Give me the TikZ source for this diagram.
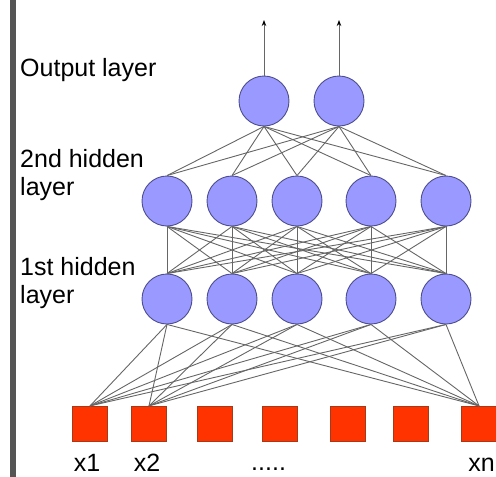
\documentclass[tikz,border=0pt]{standalone}
\usepackage{fontspec}
\setmainfont{Liberation Sans}
\usetikzlibrary{arrows.meta}
\definecolor{neuronfill}{HTML}{9999FF}
\definecolor{neurondraw}{HTML}{4D4D8C}
\definecolor{inputfill}{HTML}{FF3300}
\definecolor{inputdraw}{HTML}{A33A1A}
\definecolor{barcol}{HTML}{555555}
\definecolor{wire}{HTML}{666666}
\tikzset{
  neuron/.style={circle,fill=neuronfill,draw=neurondraw,line width=0.9pt,minimum size=50pt,inner sep=0pt},
  inputbox/.style={rectangle,fill=inputfill,draw=inputdraw,line width=1.2pt,minimum size=35pt,inner sep=0pt},
  conn/.style={draw=wire,line width=0.9pt},
  outarrow/.style={draw=wire,line width=1pt,-{Stealth[length=6pt,width=4.5pt,color=black]}},
  lbl/.style={anchor=base west,inner sep=0pt,font=\fontsize{25}{28}\selectfont},
  xlbl/.style={anchor=base,inner sep=0pt,font=\fontsize{25}{28}\selectfont}
}
\begin{document}
\begin{tikzpicture}[x=1pt,y=-1pt]
\useasboundingbox (0,0) rectangle (496,477);
\fill[barcol] (10,0) rectangle (16,477);
% labels
\node[lbl] (lout) at (20,76) {Output layer};
\node[lbl] (lh2a) at (20,167) {2nd hidden};
\node[lbl] (lh2b) at (20,195) {layer};
\node[lbl] (lh1a) at (20,275) {1st hidden};
\node[lbl] (lh1b) at (20,303) {layer};
% output layer
\node[neuron] (o1) at (264,101) {};
\node[neuron] (o2) at (339,101) {};
% hidden layers
\foreach \i/\x in {1/167,2/232,3/297,4/371,5/446}{
  \node[neuron] (h2\i) at (\x,201) {};
  \node[neuron] (h1\i) at (\x,299) {};
}
% inputs
\foreach \i/\x in {1/90,2/149,3/215,4/280,5/348,6/411,7/479}{
  \node[inputbox] (in\i) at (\x,424) {};
}
\node[xlbl] (lx1) at (87,471) {x1};
\node[xlbl] (lx2) at (147,471) {x2};
\node[anchor=base west,inner sep=0pt,font=\fontsize{25}{28}\selectfont] (ldots) at (251,470) {.....};
\node[anchor=base east,inner sep=0pt,font=\fontsize{25}{28}\selectfont] (lxn) at (495,471) {xn};
% connections
\foreach \i in {1,...,5}{
  \foreach \j in {1,2}{
    \draw[conn] (o\j.south) -- (h2\i.north);
  }
  \foreach \j in {1,...,5}{
    \draw[conn] (h2\i.south) -- (h1\j.north);
  }
  \foreach \j in {1,2,7}{
    \draw[conn] (h1\i.south) -- (in\j.north);
  }
}
% output arrows
\coordinate (t1) at (264,20);
\coordinate (t2) at (339,20);
\draw[outarrow] (o1.north) -- (t1);
\draw[outarrow] (o2.north) -- (t2);
\end{tikzpicture}
\end{document}
